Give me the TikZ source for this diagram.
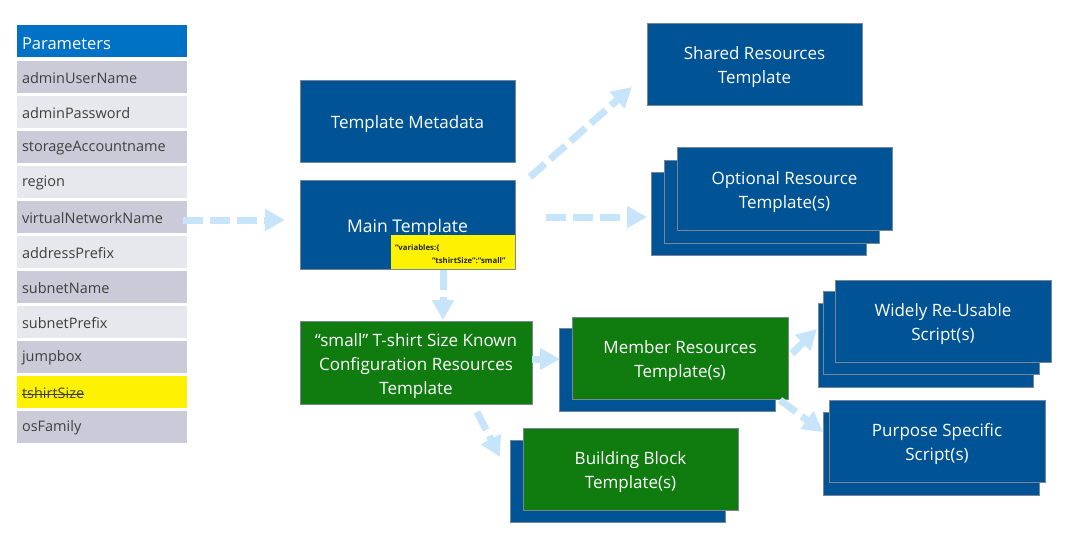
\documentclass[tikz,border=0pt]{standalone}
\usepackage{fontspec}
\setmainfont{Open Sans}
\usetikzlibrary{arrows.meta,calc}
\newcommand\strk[1]{\setbox0\hbox{#1}\rlap{\rule[0.27em]{\wd0}{0.07em}}\box0}
\newcommand\bt[1]{\raisebox{-3pt}[\height][\depth]{\begin{tabular}{@{}c@{}}#1\end{tabular}}}
\newcommand\lowr[2]{\raisebox{-#1}[\height][\depth]{#2}}
\definecolor{tblue}{RGB}{0,84,150}
\definecolor{hblue}{RGB}{0,114,198}
\definecolor{tgreen}{RGB}{16,124,16}
\definecolor{arrowc}{RGB}{198,228,250}
\definecolor{rowdark}{RGB}{202,202,216}
\definecolor{rowlight}{RGB}{231,231,238}
\definecolor{rowtext}{RGB}{64,64,64}
\definecolor{edge}{RGB}{120,135,150}
\begin{document}
\begin{tikzpicture}[x=1pt,y=-1pt,
  box/.style={anchor=north west, inner sep=0pt, outer sep=0pt, text=white, align=center,
    font=\fontsize{17}{24}\selectfont, draw=edge, line width=0.7pt},
  bluebox/.style={box, fill=tblue},
  greenbox/.style={box, fill=tgreen},
  prow/.style={anchor=north west, inner xsep=5pt, inner ysep=0pt, outer sep=0pt,
    minimum height=32pt, text width=160pt, align=left, text=rowtext,
    font=\fontsize{14.5}{18}\selectfont},
  darkrow/.style={prow, fill=rowdark},
  lightrow/.style={prow, fill=rowlight},
  flow/.style={draw=arrowc, line width=7pt, dash pattern=on 20pt off 7pt,
    -{Triangle[width=21pt,length=20pt]}}
]
\fill[white] (0,0) rectangle (1089,542);
\useasboundingbox (0,0) rectangle (1089,542);

% Parameters column
\node[prow, fill=hblue, text=white, minimum height=32pt, font=\fontsize{16.5}{22}\selectfont] (phead) at (17,25) {\lowr{2.5pt}{Parameters}};
\node[darkrow]  (p1)  at (17,61)  {\lowr{1pt}{adminUserName}};
\node[lightrow] (p2)  at (17,96)  {\lowr{1pt}{adminPassword}};
\node[darkrow]  (p3)  at (17,131) {\lowr{1pt}{storageAccountname}};
\node[lightrow] (p4)  at (17,166) {\lowr{1pt}{region}};
\node[darkrow]  (vnet) at (17,201) {\lowr{1pt}{virtualNetworkName}};
\node[lightrow] (p6)  at (17,236) {\lowr{1pt}{addressPrefix}};
\node[darkrow]  (p7)  at (17,271) {\lowr{1pt}{subnetName}};
\node[lightrow] (p8)  at (17,306) {\lowr{1pt}{subnetPrefix}};
\node[darkrow]  (p9)  at (17,341) {\lowr{1pt}{jumpbox}};
\node[prow, fill=yellow] (p10) at (17,376) {\lowr{1pt}{\strk{tshirtSize}}};
\node[darkrow]  (p11) at (17,411) {\lowr{1pt}{osFamily}};

% Template boxes
\node[bluebox, minimum width=215pt, minimum height=82pt] (meta) at (300,80) {\bt{Template Metadata}};
\node[bluebox, minimum width=215pt, minimum height=89pt, font=\fontsize{17.5}{24}\selectfont] (main) at (300,180) {\bt{Main Template}};
\node[anchor=north west, fill=yellow, inner sep=0pt, outer sep=0pt, minimum width=124pt, minimum height=34pt,
  font=\bfseries\fontsize{7.8}{13}\selectfont, text=black!85] (note) at (391,235)
  {\lowr{2.5pt}{\parbox{116pt}{“variables:\{\\\hspace*{37pt}“tshirtSize”:“small”}}};

\node[bluebox, minimum width=215pt, minimum height=82pt] (shared) at (647,23) {\bt{Shared Resources\\Template}};

\node[bluebox, minimum width=215pt, minimum height=83pt] (opt3) at (651,172) {};
\node[bluebox, minimum width=215pt, minimum height=83pt] (opt2) at (664,160) {};
\node[bluebox, minimum width=215pt, minimum height=83pt] (opt) at (677,147) {\bt{Optional Resource\\Template(s)}};

\node[greenbox, minimum width=232pt, minimum height=83pt] (small) at (300,321) {\bt{“small” T-shirt Size Known\\Configuration Resources\\Template}};

\node[bluebox, minimum width=216pt, minimum height=83pt] (mem2) at (559,328) {};
\node[greenbox, minimum width=216pt, minimum height=82pt] (mem) at (572,317) {\bt{Member Resources\\Template(s)}};

\node[bluebox, minimum width=215pt, minimum height=82pt] (bb2) at (510,440) {};
\node[greenbox, minimum width=215pt, minimum height=82pt] (bb) at (523,428) {\bt{Building Block\\Template(s)}};

\node[bluebox, minimum width=215pt, minimum height=84pt] (wid3) at (818,303) {};
\node[bluebox, minimum width=216pt, minimum height=83pt] (wid2) at (823,291) {};
\node[bluebox, minimum width=216pt, minimum height=82pt] (wid) at (835,280) {\bt{Widely Re-Usable\\Script(s)}};

\node[bluebox, minimum width=216pt, minimum height=83pt] (pur2) at (823,412) {};
\node[bluebox, minimum width=216pt, minimum height=82pt] (pur) at (829,400) {\bt{Purpose Specific\\Script(s)}};

% Connectors
\draw[flow] ($(vnet.east)+(-4,3)$) -- ($(main.west |- vnet.east)+(-15,3)$);
\draw[flow] ($(main.north east)+(15,-3)$) -- ($(shared.south west)+(-15,-18)$);
\draw[flow] ($(main.east)+(31,-7.5)$) -- ($(opt3.west)+(-4,3.5)$);
\draw[flow] ($(note.south)+(-10,1)$) -- ($(small.north)+(27,-1)$);
\draw[flow] ($(small.east)+(0,-3.5)$) -- ($(mem2.west)+(1,-10.5)$);
\draw[flow] ($(small.south)+(61,8)$) -- ($(bb2.west)+(-10,-24)$);
\draw[flow] ($(mem.east)+(4,-4.5)$) -- ($(wid3.west)+(-1,-16)$);
\draw[flow] ($(mem.south east)+(-8,1)$) -- ($(pur2.west)+(0,-21.5)$);
\end{tikzpicture}
\end{document}
